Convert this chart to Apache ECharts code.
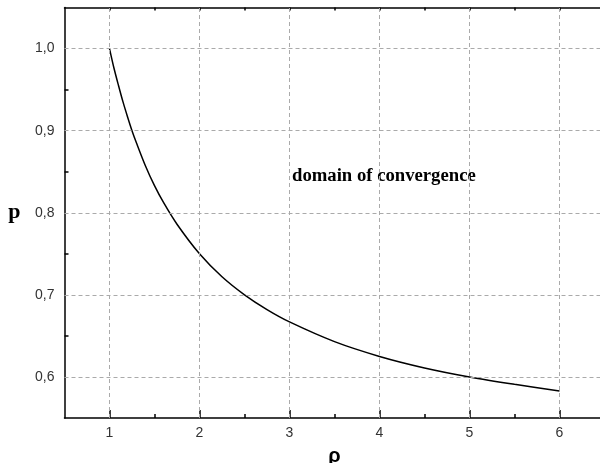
<!DOCTYPE html>
<html><head><meta charset="utf-8">
<script src="https://cdn.jsdelivr.net/npm/echarts@6/dist/echarts.min.js"></script>
<style>html,body{margin:0;padding:0;background:#fff}#c{width:600px;height:463px}</style>
</head><body><div id="c"></div>
<script>
const rho = [1.0, 1.05, 1.1, 1.15, 1.2, 1.25, 1.3, 1.4, 1.5, 1.6, 1.75, 2.0, 2.25, 2.5, 2.75, 3.0, 3.5, 4.0, 4.5, 5.0, 5.5, 6.0];
const pVals = [1.0, 0.976, 0.955, 0.935, 0.917, 0.9, 0.885, 0.857, 0.833, 0.8125, 0.786, 0.75, 0.722, 0.7, 0.682, 0.667, 0.643, 0.625, 0.611, 0.6, 0.591, 0.583];
const xTicks = [1, 2, 3, 4, 5, 6];
const xMinorTicks = [1.5, 2.5, 3.5, 4.5, 5.5, 6.5];
const yTicks = [0.6, 0.7, 0.8, 0.9, 1.0];
const yMinorTicks = [0.65, 0.75, 0.85, 0.95];
const annotation = 'domain of convergence';

const chart = echarts.init(document.getElementById('c'), null, {renderer: 'canvas'});
const axisLine = {show: true, onZero: false, lineStyle: {color: '#000', width: 1.5}};
const labelFont = {fontFamily: 'Liberation Sans, Arial', fontSize: 14, color: '#333'};
const X = {type: 'value', min: 0.5, max: 6.5};
const Y = {type: 'value', min: 0.55, max: 1.05};
const none = {axisTick: {show: false}, axisLabel: {show: false}, splitLine: {show: false}};
chart.setOption({
  animation: false,
  grid: {left: 64.5, right: -4.5, top: 7.5, bottom: 45, outerBoundsMode: 'none', containLabel: false},
  xAxis: [Object.assign({}, X, {
    position: 'bottom', axisLine: axisLine,
    axisTick: {show: true, inside: true, length: 8, customValues: xTicks, lineStyle: {color: '#000', width: 1.5}},
    axisLabel: Object.assign({margin: 8, customValues: xTicks, formatter: v => String(v)}, labelFont),
    splitLine: {show: false},
    name: 'ρ', nameLocation: 'middle', nameGap: 28,
    nameTextStyle: {fontFamily: 'Liberation Sans, Arial', fontSize: 20, fontWeight: 'bold', color: '#000'}
  }), Object.assign({}, X, none, {
    position: 'bottom', axisLine: {show: false},
    axisTick: {show: true, inside: true, length: 4, customValues: xMinorTicks, lineStyle: {color: '#000', width: 1.5}}
  }), Object.assign({}, X, none, {
    position: 'top', axisLine: axisLine,
    axisTick: {show: true, inside: true, length: 3, customValues: xTicks.concat(xMinorTicks), lineStyle: {color: '#000', width: 1.5}}
  })],
  yAxis: [Object.assign({}, Y, {
    position: 'left', axisLine: axisLine,
    axisTick: {show: true, inside: true, length: 4, customValues: yMinorTicks, lineStyle: {color: '#000', width: 1.5}},
    axisLabel: Object.assign({margin: 10, customValues: yTicks, formatter: v => v.toFixed(1).replace('.', ',')}, labelFont),
    splitLine: {show: false},
    name: 'p', nameLocation: 'middle', nameGap: 44, nameRotate: 0,
    nameTextStyle: {fontFamily: 'Liberation Serif, Times New Roman', fontSize: 22, fontWeight: 'bold', color: '#000'}
  })],
  series: [{
    type: 'line', xAxisIndex: 0, yAxisIndex: 0,
    data: rho.map((r, i) => [r, pVals[i]]),
    smooth: 0.3, showSymbol: false,
    lineStyle: {color: '#000', width: 1.5},
    markLine: {
      silent: true, symbol: 'none', label: {show: false},
      lineStyle: {color: '#aaaaaa', type: [4, 3], width: 1},
      data: xTicks.map(v => ({xAxis: v})).concat(yTicks.map(v => ({yAxis: v})))
    },
    z: 3
  }],
  graphic: [{
    type: 'text', left: 292, top: 167,
    style: {text: annotation, fontFamily: 'Liberation Serif, Times New Roman', fontSize: 18.7, fontWeight: 'bold', fill: '#000'}
  }]
});
</script></body></html>
